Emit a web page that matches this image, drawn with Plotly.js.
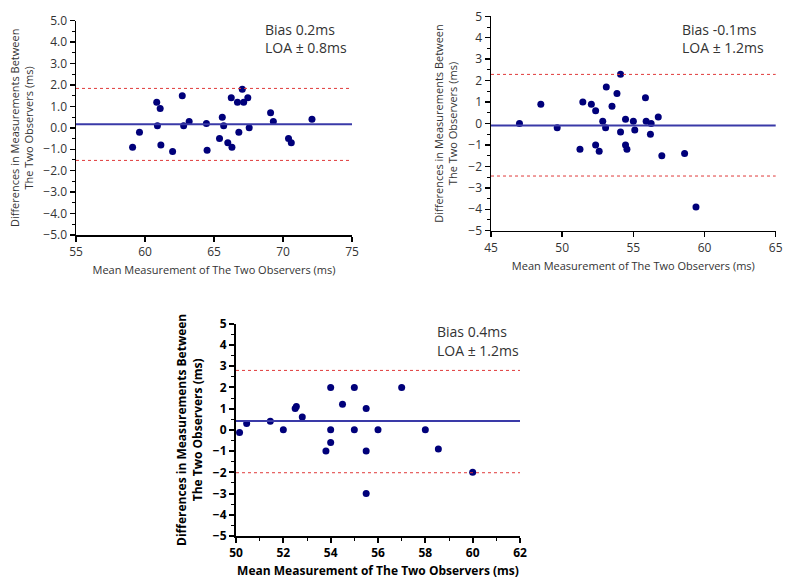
<!DOCTYPE html>
<html>
<head>
<meta charset="utf-8">
<script src="https://cdn.plot.ly/plotly-3.0.1.min.js"></script>
<style>html,body{margin:0;padding:0;background:#fff;}#chart{width:800px;height:588px;}</style>
</head>
<body>
<div id="chart"></div>
<script>
// Panel A
const meanA = [59.1, 59.6, 60.85, 60.9, 61.1, 61.15, 62.0, 62.7, 62.8, 63.2, 64.45, 64.5, 65.4, 65.6, 65.7, 66.0, 66.25, 66.3, 66.7, 66.8, 67.05, 67.15, 67.45, 67.55, 69.1, 69.3, 70.4, 70.6, 72.1];
const diffA = [-0.9, -0.2, 1.2, 0.1, 0.9, -0.8, -1.1, 1.5, 0.1, 0.3, 0.2, -1.05, -0.5, 0.5, 0.1, -0.7, 1.4, -0.9, 1.2, -0.2, 1.8, 1.2, 1.4, 0.0, 0.7, 0.3, -0.5, -0.7, 0.4];
const linesA = {bias: 0.17, upper: 1.84, lower: -1.52};
// Panel B
const meanB = [47.0, 48.5, 49.65, 51.25, 51.45, 52.05, 52.35, 52.35, 52.6, 52.85, 53.05, 53.1, 53.5, 53.85, 54.1, 54.1, 54.45, 54.45, 54.55, 55.0, 55.1, 55.85, 55.9, 56.2, 56.25, 56.75, 57.0, 58.6, 59.4];
const diffB = [0.0, 0.9, -0.2, -1.2, 1.0, 0.9, -1.0, 0.6, -1.3, 0.1, -0.2, 1.7, 0.8, 1.4, 2.3, -0.4, 0.2, -1.0, -1.2, 0.1, -0.3, 1.2, 0.1, -0.5, 0.0, 0.3, -1.5, -1.4, -3.9];
const linesB = {bias: -0.09, upper: 2.29, lower: -2.45};
// Panel C
const meanC = [50.15, 50.45, 51.45, 52.0, 52.5, 52.55, 52.8, 54.0, 53.8, 54.0, 54.0, 54.5, 55.0, 55.0, 55.5, 55.5, 55.5, 56.0, 57.0, 58.0, 58.55, 60.0];
const diffC = [-0.12, 0.3, 0.4, 0.0, 1.0, 1.1, 0.6, 2.0, -1.0, 0.0, -0.6, 1.2, 2.0, 0.0, 1.0, -1.0, -3.0, 0.0, 2.0, 0.0, -0.9, -2.0];
const linesC = {bias: 0.42, upper: 2.8, lower: -2.02};

const labelsA = ["Bias 0.2ms", "LOA \u00b1 0.8ms"];
const labelsB = ["Bias -0.1ms", "LOA \u00b1 1.2ms"];
const labelsC = ["Bias 0.4ms", "LOA \u00b1 1.2ms"];
const xTitle = "Mean Measurement of The Two Observers (ms)";
const yTitle = "Differences in Measurements Between<br>The Two Observers (ms)";

const W = 800, H = 588;
const FONT = "Open Sans, sans-serif";
const grey = "#333333";
const markerColor = "#00007a";
const biasColor = "#3a3aa8";
const loaColor = "#e03a3a";

function dx(a, b) { return [a / W, b / W]; }
function dy(top, bottom) { return [1 - bottom / H, 1 - top / H]; }

const traces = [
  {x: meanA, y: diffA, xaxis: 'x', yaxis: 'y', mode: 'markers', type: 'scatter', marker: {color: markerColor, size: 7}, hoverinfo: 'x+y'},
  {x: meanB, y: diffB, xaxis: 'x2', yaxis: 'y2', mode: 'markers', type: 'scatter', marker: {color: markerColor, size: 7}, hoverinfo: 'x+y'},
  {x: meanC, y: diffC, xaxis: 'x3', yaxis: 'y3', mode: 'markers', type: 'scatter', marker: {color: markerColor, size: 7}, hoverinfo: 'x+y'}
];

function refShapes(xa, ya, L) {
  const xref = xa + ' domain';
  return [
    {type: 'line', xref: xref, yref: ya, x0: 0, x1: 1, y0: L.upper, y1: L.upper, line: {color: loaColor, width: 1, dash: 'dot'}},
    {type: 'line', xref: xref, yref: ya, x0: 0, x1: 1, y0: L.lower, y1: L.lower, line: {color: loaColor, width: 1, dash: 'dot'}},
    {type: 'line', xref: xref, yref: ya, x0: 0, x1: 1, y0: L.bias, y1: L.bias, line: {color: biasColor, width: 2}}
  ];
}

function xaxisDef(dom, range, dtick, minor, bold, anchor, standoff) {
  const tf = bold ? {family: FONT, size: 12, color: '#000', weight: 'bold'} : {family: FONT, size: 12, color: grey};
  const f = bold ? {family: FONT, size: 12, color: '#000', weight: 'bold'} : {family: FONT, size: 11, color: grey};
  const a = {
    domain: dom, range: range, dtick: dtick, tick0: range[0], anchor: anchor,
    showgrid: false, zeroline: false, showline: true, linecolor: '#000', linewidth: bold ? 2 : 1.5,
    ticks: 'outside', ticklen: 5, tickwidth: bold ? 2 : 1.5, tickcolor: '#000',
    tickfont: tf, fixedrange: true,
    title: {text: xTitle, font: f, standoff: standoff}
  };
  if (minor) a.minor = {dtick: minor, ticks: 'outside', ticklen: 3, tickwidth: 1, tickcolor: '#000', showgrid: false};
  return a;
}
function yaxisDef(dom, fmt, bold, anchor, standoff) {
  const tf = bold ? {family: FONT, size: 12, color: '#000', weight: 'bold'} : {family: FONT, size: 12, color: grey};
  const f = bold ? {family: FONT, size: 12, color: '#000', weight: 'bold'} : {family: FONT, size: 11, color: grey};
  return {
    domain: dom, range: [-5, 5], dtick: 1, tick0: -5, anchor: anchor, tickformat: fmt,
    showgrid: false, zeroline: false, showline: true, linecolor: '#000', linewidth: bold ? 2 : 1.5,
    ticks: 'outside', ticklen: 5, tickwidth: bold ? 2 : 1.5, tickcolor: '#000',
    minor: {dtick: 0.5, ticks: 'outside', ticklen: 3, tickwidth: 1, tickcolor: '#000', showgrid: false},
    tickfont: tf, fixedrange: true,
    title: {text: yTitle, font: f, standoff: standoff}
  };
}

function ann(x, y, text, bold) {
  return {xref: 'paper', yref: 'paper', x: x / W, y: 1 - y / H, xanchor: 'left', yanchor: 'middle',
    text: text, showarrow: false, font: {family: FONT, size: 14, color: bold ? '#000' : grey}};
}

const layout = {
  width: W, height: H,
  margin: {l: 0, r: 0, t: 0, b: 0},
  paper_bgcolor: '#fff', plot_bgcolor: '#fff',
  showlegend: false,
  xaxis: xaxisDef(dx(76, 352), [55, 75], 5, null, false, 'y', 7),
  yaxis: yaxisDef(dy(20.7, 235), '.1f', false, 'x', 7),
  xaxis2: xaxisDef(dx(491, 775.7), [45, 65], 5, null, false, 'y2', 7),
  yaxis2: yaxisDef(dy(16.3, 230.7), 'd', false, 'x2', 8),
  xaxis3: xaxisDef(dx(236, 520), [50, 62], 2, 1, true, 'y3', 6),
  yaxis3: yaxisDef(dy(323.7, 536), 'd', true, 'x3', 8),
  shapes: [].concat(refShapes('x', 'y', linesA), refShapes('x2', 'y2', linesB), refShapes('x3', 'y3', linesC)),
  annotations: [
    ann(263, 29, labelsA[0]), ann(263, 48, labelsA[1]),
    ann(680, 29, labelsB[0]), ann(680, 48, labelsB[1]),
    ann(435, 331, labelsC[0]), ann(435, 350, labelsC[1])
  ]
};

Plotly.newPlot('chart', traces, layout, {staticPlot: true, displayModeBar: false});
</script>
</body>
</html>
